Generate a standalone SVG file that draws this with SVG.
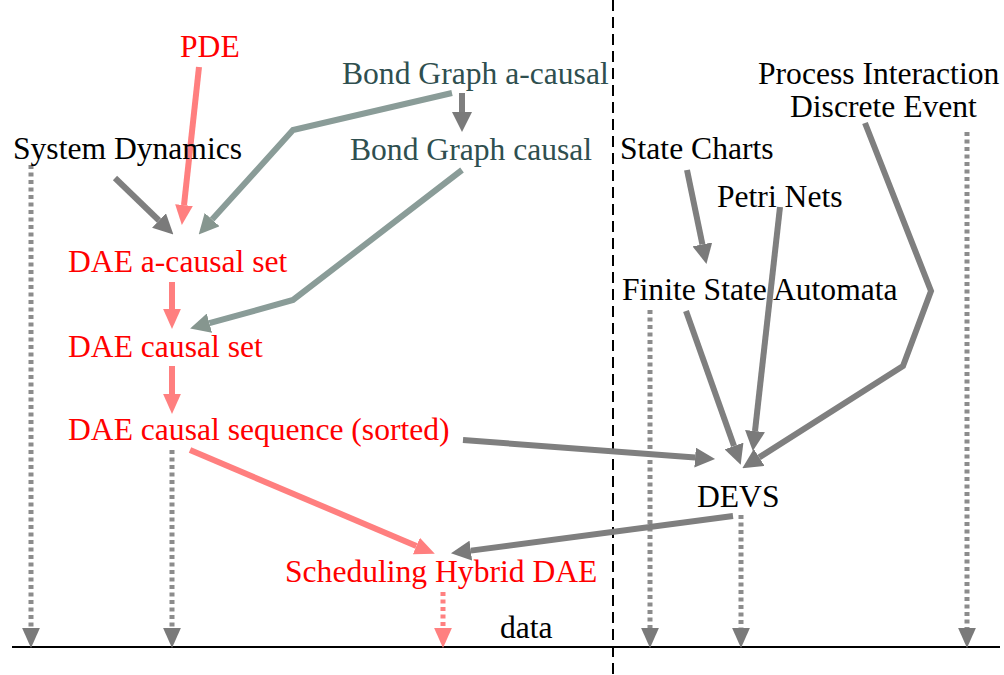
<svg xmlns="http://www.w3.org/2000/svg" width="1004" height="675" viewBox="0 0 1004 675">
  <style>
    text { font-family: 'Liberation Serif', 'Times New Roman', Times, serif; font-size: 31.6px; }
    .blk { fill: #000000; }
    .red { fill: #ff0000; }
    .bg  { fill: #2f4f4f; }
    .a-gray { fill: none; stroke: #7f7f7f; stroke-width: 6; stroke-linejoin: miter; }
    .a-bond { fill: none; stroke: #8a9c98; stroke-width: 6; stroke-linejoin: miter; }
    .a-red  { fill: none; stroke: #ff7f7f; stroke-width: 6; }
    .d-gray { fill: none; stroke: #8c8c8c; stroke-width: 5; stroke-dasharray: 4 3.5; }
    .d-red  { fill: none; stroke: #ff8080; stroke-width: 5; stroke-dasharray: 4 3.5; }
  </style>
  <defs>
    <marker id="h-gray" markerUnits="userSpaceOnUse" markerWidth="20" markerHeight="20" refX="0" refY="9" orient="auto" viewBox="0 0 18 18">
      <path d="M0,0 L18,9 L0,18 z" fill="#7a7a7a"/>
    </marker>
    <marker id="h-bond" markerUnits="userSpaceOnUse" markerWidth="20" markerHeight="20" refX="0" refY="9" orient="auto" viewBox="0 0 18 18">
      <path d="M0,0 L18,9 L0,18 z" fill="#86968f"/>
    </marker>
    <marker id="h-red" markerUnits="userSpaceOnUse" markerWidth="20" markerHeight="20" refX="0" refY="9" orient="auto" viewBox="0 0 18 18">
      <path d="M0,1 L18,9 L0,17 z" fill="#ff7f7f"/>
    </marker>
    <marker id="h-dgray" markerUnits="userSpaceOnUse" markerWidth="20" markerHeight="20" refX="0" refY="8" orient="auto" viewBox="0 0 18 16">
      <path d="M0,0 L18,8 L0,16 z" fill="#7a7a7a"/>
    </marker>
    <marker id="h-dred" markerUnits="userSpaceOnUse" markerWidth="20" markerHeight="20" refX="0" refY="8" orient="auto" viewBox="0 0 18 16">
      <path d="M0,0 L18,8 L0,16 z" fill="#ff8080"/>
    </marker>
  </defs>

  <!-- separators: time axis and continuous / discrete split -->
  <g id="axes">
    <line x1="12" y1="647" x2="1000" y2="647" stroke="#000" stroke-width="2"/>
    <line x1="613" y1="0" x2="613" y2="675" stroke="#000" stroke-width="2" stroke-dasharray="11 6"/>
  </g>

  <g id="connectors">
    <!-- dotted drops to the data axis -->
    <path class="d-gray" d="M31,165 L31,628" marker-end="url(#h-dgray)"/>
    <path class="d-gray" d="M172,450 L172,628" marker-end="url(#h-dgray)"/>
    <path class="d-red" d="M443,592 L443,628" marker-end="url(#h-dred)"/>
    <path class="d-gray" d="M650,310 L650,628" marker-end="url(#h-dgray)"/>
    <path class="d-gray" d="M741,515 L741,628" marker-end="url(#h-dgray)"/>
    <path class="d-gray" d="M967,132 L967,628" marker-end="url(#h-dgray)"/>

    <!-- continuous side -->
    <path class="a-red" d="M199,67 L184,205.1" marker-end="url(#h-red)"/>
    <path class="a-gray" d="M115,178 L159,220.5" marker-end="url(#h-gray)"/>
    <path class="a-bond" d="M452,93 L293,130 L212.1,219.6" marker-end="url(#h-bond)"/>
    <path class="a-gray" d="M462,93 L462,112" stroke-width="5" marker-end="url(#h-gray)"/>
    <path class="a-bond" d="M462,170 L293,300 L209.4,323.2" marker-end="url(#h-bond)"/>
    <path class="a-red" d="M172,282 L172,309" marker-end="url(#h-red)"/>
    <path class="a-red" d="M172,366 L172,394" marker-end="url(#h-red)"/>
    <path class="a-red" d="M190,450 L416.4,546" marker-end="url(#h-red)"/>
    <path class="a-gray" d="M463,440 L695.1,457.6" marker-end="url(#h-gray)"/>

    <!-- discrete side -->
    <path class="a-gray" d="M733,516 L470.8,550.6" marker-end="url(#h-gray)"/>
    <path class="a-gray" d="M687,170 L702.4,244.4" marker-end="url(#h-gray)"/>
    <path class="a-gray" d="M780,207 L755,431.1" marker-end="url(#h-gray)"/>
    <path class="a-gray" d="M686,311 L734,446" marker-end="url(#h-gray)"/>
    <path class="a-gray" d="M865,123 L931,291 L903,366 L759.2,457.4" marker-end="url(#h-gray)"/>
  </g>

  <g id="pde"><text class="red" x="180" y="57" font-family="Liberation Serif, serif">PDE</text></g>
  <g id="bond-acausal"><text class="bg" x="342" y="84" font-family="Liberation Serif, serif">Bond Graph a-causal</text></g>
  <g id="bond-causal"><text class="bg" x="350" y="160" font-family="Liberation Serif, serif">Bond Graph causal</text></g>
  <g id="system-dynamics"><text class="blk" x="13" y="159" font-family="Liberation Serif, serif">System Dynamics</text></g>
  <g id="dae-acausal"><text class="red" x="68" y="272" font-family="Liberation Serif, serif">DAE a-causal set</text></g>
  <g id="dae-causal"><text class="red" x="68" y="357" font-family="Liberation Serif, serif">DAE causal set</text></g>
  <g id="dae-sequence"><text class="red" x="68" y="440" font-family="Liberation Serif, serif">DAE causal sequence (sorted)</text></g>
  <g id="scheduling"><text class="red" x="285" y="582" font-family="Liberation Serif, serif">Scheduling Hybrid DAE</text></g>
  <g id="data"><text class="blk" x="500" y="638" font-family="Liberation Serif, serif">data</text></g>
  <g id="process-interaction"><text class="blk" x="758" y="84" font-family="Liberation Serif, serif">Process Interaction</text></g>
  <g id="discrete-event"><text class="blk" x="790" y="117" font-family="Liberation Serif, serif">Discrete Event</text></g>
  <g id="state-charts"><text class="blk" x="620" y="159" font-family="Liberation Serif, serif">State Charts</text></g>
  <g id="petri-nets"><text class="blk" x="717" y="207" font-family="Liberation Serif, serif">Petri Nets</text></g>
  <g id="fsa"><text class="blk" x="622" y="300" font-family="Liberation Serif, serif">Finite State Automata</text></g>
  <g id="devs"><text class="blk" x="697" y="507" font-family="Liberation Serif, serif">DEVS</text></g>
</svg>
